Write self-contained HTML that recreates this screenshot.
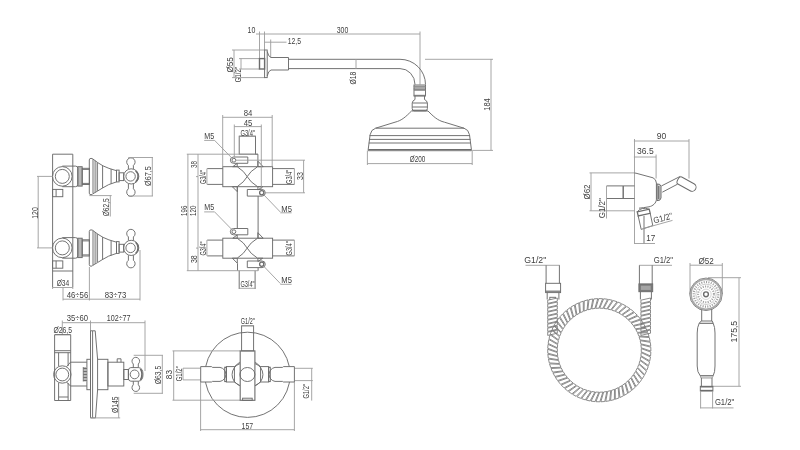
<!DOCTYPE html>
<html><head><meta charset="utf-8"><style>
html,body{margin:0;padding:0;background:#fff;}
svg{display:block;}
#wrap{will-change:transform;width:800px;height:450px;overflow:hidden;}
text{font-family:"Liberation Sans",sans-serif;fill:#404040;stroke:none;}
</style></head><body><div id="wrap">
<svg width="800" height="450" viewBox="0 0 800 450">
<rect width="800" height="450" fill="#fff"/>
<g fill="none" stroke="#6c6c6c" stroke-width="0.95">
<line x1="256" y1="34" x2="420" y2="34" stroke="#9c9c9c" stroke-width="0.9"/>
<line x1="259.5" y1="31.5" x2="259.5" y2="69" stroke="#9c9c9c" stroke-width="0.9"/>
<line x1="264.5" y1="31.5" x2="264.5" y2="50" stroke="#9c9c9c" stroke-width="0.9"/>
<line x1="264.5" y1="42.2" x2="286.5" y2="42.2" stroke="#9c9c9c" stroke-width="0.9"/>
<line x1="270.7" y1="39.5" x2="270.7" y2="57.5" stroke="#9c9c9c" stroke-width="0.9"/>
<line x1="420" y1="31.5" x2="420" y2="84.5" stroke="#9c9c9c" stroke-width="0.9"/>
<text x="247.5" y="32.6" font-size="8.6" textLength="7.8" lengthAdjust="spacingAndGlyphs">10</text>
<text x="336.7" y="32.6" font-size="8.6" textLength="11.6" lengthAdjust="spacingAndGlyphs">300</text>
<text x="287.7" y="44.0" font-size="8.6" textLength="13.3" lengthAdjust="spacingAndGlyphs">12,5</text>
<line x1="232" y1="50" x2="265" y2="50" stroke="#9c9c9c" stroke-width="0.9"/>
<line x1="232" y1="77.6" x2="265" y2="77.6" stroke="#9c9c9c" stroke-width="0.9"/>
<line x1="234" y1="50" x2="234" y2="77.6" stroke="#9c9c9c" stroke-width="0.9"/>
<text transform="translate(233.1,72.6) rotate(-90)" x="0" y="0" font-size="8.6" textLength="15.4" lengthAdjust="spacingAndGlyphs">Ø55</text>
<line x1="239" y1="58.6" x2="259.5" y2="58.6" stroke="#9c9c9c" stroke-width="0.9"/>
<line x1="239" y1="69" x2="259.5" y2="69" stroke="#9c9c9c" stroke-width="0.9"/>
<line x1="241" y1="58.6" x2="241" y2="69" stroke="#9c9c9c" stroke-width="0.9"/>
<text transform="translate(240.8,82.3) rotate(-90)" x="0" y="0" font-size="8.6" textLength="15.3" lengthAdjust="spacingAndGlyphs">G1/2"</text>
<rect x="264.6" y="50" width="2.6" height="27.6"/>
<rect x="259.5" y="58.6" width="5.1" height="10.4" stroke-width="1.4"/>
<path d="M267.2,51.5 Q268.5,57 271,57.5 L288.5,57.5 L288.5,70 L271,70 Q268.5,70.5 267.2,76"/>
<path d="M288.5,59.3 L400,59.3 A25.5,25.2 0 0 1 425.5,84.5"/>
<path d="M288.5,68.6 L400,68.6 A15,15.9 0 0 1 415,84.5"/>
<line x1="356" y1="59" x2="356" y2="69" stroke="#9c9c9c" stroke-width="0.9"/>
<text transform="translate(356.3,84.5) rotate(-90)" x="0" y="0" font-size="8.6" textLength="12.8" lengthAdjust="spacingAndGlyphs">Ø18</text>
<line x1="425" y1="59.3" x2="493" y2="59.3" stroke="#9c9c9c" stroke-width="0.9"/>
<line x1="491" y1="59" x2="491" y2="150.4" stroke="#9c9c9c" stroke-width="0.9"/>
<line x1="472.2" y1="150.4" x2="493" y2="150.4" stroke="#9c9c9c" stroke-width="0.9"/>
<text transform="translate(489.8,110.8) rotate(-90)" x="0" y="0" font-size="8.6" textLength="12.6" lengthAdjust="spacingAndGlyphs">184</text>
<rect x="414" y="85" width="11.5" height="11"/>
<rect x="414" y="86" width="11.5" height="1.6" stroke-width="0.3" fill="#9a9a9a"/>
<rect x="414" y="88.5" width="11.5" height="2.1" stroke-width="0.3" fill="#8a8a8a"/>
<rect x="414" y="95" width="11.5" height="1" stroke-width="0.3" fill="#888"/>
<path d="M415,96 L415,99.5 Q412.5,100.5 412.2,103 L412.2,108.5 Q412.2,110.5 414,110.8 L425.5,110.8 Q427.4,110.5 427.4,108.5 L427.4,103 Q427,100.5 424.5,99.5 L424.5,96"/>
<line x1="412.6" y1="103" x2="427" y2="103"/>
<line x1="412.4" y1="107" x2="427.2" y2="107"/>
<line x1="412.2" y1="110.2" x2="427.4" y2="110.2"/>
<path d="M411.5,111 C406,116.5 402,120.5 395,122.2 L375.6,128.2 Q371,129.5 370.1,134.8 L368.2,149.5 L368.2,150.7 L471.4,150.7 L471.4,149.5 L469.5,134.8 Q468.6,129.5 464,128.2 L444.5,122.2 C437.5,120.5 433.5,116.5 428,111 Z"/>
<line x1="375.6" y1="128.2" x2="464" y2="128.2"/>
<line x1="369.6" y1="135.6" x2="470" y2="135.6"/>
<line x1="369.2" y1="139.4" x2="470.4" y2="139.4"/>
<line x1="368.8" y1="143" x2="470.8" y2="143"/>
<line x1="368.2" y1="149.5" x2="471.4" y2="149.5" stroke-width="1.2"/>
<line x1="367.4" y1="150.7" x2="367.4" y2="165" stroke="#9c9c9c" stroke-width="0.9"/>
<line x1="472.2" y1="150.7" x2="472.2" y2="165" stroke="#9c9c9c" stroke-width="0.9"/>
<line x1="367.4" y1="163.6" x2="472.2" y2="163.6" stroke="#9c9c9c" stroke-width="0.9"/>
<text x="409.7" y="162.3" font-size="8.6" textLength="15.6" lengthAdjust="spacingAndGlyphs">Ø200</text>
<circle cx="62.3" cy="176.4" r="9.8"/>
<circle cx="62.3" cy="176.4" r="7.0"/>
<path d="M62.3,166.1 L75.5,166.1 Q77.8,166.1 77.8,168.4 L77.8,184.4 Q77.8,186.70000000000002 75.5,186.70000000000002 L62.3,186.70000000000002"/>
<rect x="77.8" y="166.70000000000002" width="4.4" height="19.4"/>
<line x1="79" y1="166.70000000000002" x2="79" y2="186.1"/>
<line x1="81" y1="166.70000000000002" x2="81" y2="186.1"/>
<rect x="82.2" y="168.3" width="7.2" height="16.2"/>
<line x1="82.2" y1="169.4" x2="89.4" y2="169.4"/>
<line x1="82.2" y1="183.4" x2="89.4" y2="183.4"/>
<path d="M89.3,159.9 Q89.3,158.4 91,158.4 Q92.5,158.4 93,159.1 Q98,163.1 103.1,165.9 Q108,168.4 116.5,170.70000000000002 L116.5,181.9 Q108,184.20000000000002 102,188.3 Q97.5,191.20000000000002 93,193.70000000000002 Q92.5,194.70000000000002 91,194.70000000000002 Q89.3,194.70000000000002 89.3,193.20000000000002 Z"/>
<line x1="93" y1="159.1" x2="93" y2="193.70000000000002"/>
<line x1="95.1" y1="160.6" x2="95.1" y2="192.4"/>
<line x1="97.3" y1="162.3" x2="97.3" y2="191.0" stroke-width="1.5" stroke="#888"/>
<line x1="102.6" y1="165.6" x2="102.6" y2="187.9"/>
<line x1="111.1" y1="169.1" x2="111.1" y2="183.9"/>
<rect x="116.5" y="170.1" width="2.6" height="11.8"/>
<rect x="119.1" y="172.8" width="4.6" height="7.8"/>
<path d="M128.4,169.0 L128.4,165.4 A4.2,4.2 0 1 1 133.4,165.4 L133.4,169.0"/>
<path d="M128.4,183.8 L128.4,188.8 A4.2,4.2 0 1 0 133.4,188.8 L133.4,183.8"/>
<circle cx="131.2" cy="176.4" r="7.6"/>
<circle cx="130.6" cy="176.4" r="4.7"/>
<path d="M135.6,170.8 A7.6,7.6 0 0 1 135.6,182.0" stroke-width="1.5"/>
<rect x="52.6" y="189.4" width="10.2" height="7.3"/>
<line x1="56.1" y1="189.4" x2="56.1" y2="196.70000000000002"/>
<circle cx="62.3" cy="247.9" r="9.8"/>
<circle cx="62.3" cy="247.9" r="7.0"/>
<path d="M62.3,237.6 L75.5,237.6 Q77.8,237.6 77.8,239.9 L77.8,255.9 Q77.8,258.2 75.5,258.2 L62.3,258.2"/>
<rect x="77.8" y="238.20000000000002" width="4.4" height="19.4"/>
<line x1="79" y1="238.20000000000002" x2="79" y2="257.6"/>
<line x1="81" y1="238.20000000000002" x2="81" y2="257.6"/>
<rect x="82.2" y="239.8" width="7.2" height="16.2"/>
<line x1="82.2" y1="240.9" x2="89.4" y2="240.9"/>
<line x1="82.2" y1="254.9" x2="89.4" y2="254.9"/>
<path d="M89.3,231.4 Q89.3,229.9 91,229.9 Q92.5,229.9 93,230.6 Q98,234.6 103.1,237.4 Q108,239.9 116.5,242.20000000000002 L116.5,253.4 Q108,255.70000000000002 102,259.8 Q97.5,262.7 93,265.2 Q92.5,266.2 91,266.2 Q89.3,266.2 89.3,264.7 Z"/>
<line x1="93" y1="230.6" x2="93" y2="265.2"/>
<line x1="95.1" y1="232.1" x2="95.1" y2="263.9"/>
<line x1="97.3" y1="233.8" x2="97.3" y2="262.5" stroke-width="1.5" stroke="#888"/>
<line x1="102.6" y1="237.1" x2="102.6" y2="259.4"/>
<line x1="111.1" y1="240.6" x2="111.1" y2="255.4"/>
<rect x="116.5" y="241.6" width="2.6" height="11.8"/>
<rect x="119.1" y="244.3" width="4.6" height="7.8"/>
<path d="M128.4,240.5 L128.4,236.9 A4.2,4.2 0 1 1 133.4,236.9 L133.4,240.5"/>
<path d="M128.4,255.3 L128.4,260.3 A4.2,4.2 0 1 0 133.4,260.3 L133.4,255.3"/>
<circle cx="131.2" cy="247.9" r="7.6"/>
<circle cx="130.6" cy="247.9" r="4.7"/>
<path d="M135.6,242.3 A7.6,7.6 0 0 1 135.6,253.5" stroke-width="1.5"/>
<rect x="52.6" y="260.9" width="10.2" height="7.3"/>
<line x1="56.1" y1="260.9" x2="56.1" y2="268.2"/>
<path d="M52.6,287 L52.6,154.2 L72.8,154.2 L72.8,287"/>
<line x1="52.6" y1="271" x2="72.8" y2="271"/>
<line x1="37" y1="176.4" x2="52.6" y2="176.4" stroke="#9c9c9c" stroke-width="0.9"/>
<line x1="37" y1="247.9" x2="52.6" y2="247.9" stroke="#9c9c9c" stroke-width="0.9"/>
<line x1="38.2" y1="176.4" x2="38.2" y2="247.9" stroke="#9c9c9c" stroke-width="0.9"/>
<text transform="translate(37.6,218.8) rotate(-90)" x="0" y="0" font-size="8.6" textLength="11.6" lengthAdjust="spacingAndGlyphs">120</text>
<line x1="128.3" y1="157.5" x2="153" y2="157.5" stroke="#9c9c9c" stroke-width="0.9"/>
<line x1="128.3" y1="196" x2="153" y2="196" stroke="#9c9c9c" stroke-width="0.9"/>
<line x1="152.3" y1="157.5" x2="152.3" y2="196" stroke="#9c9c9c" stroke-width="0.9"/>
<text transform="translate(150.9,185.9) rotate(-90)" x="0" y="0" font-size="8.6" textLength="19.7" lengthAdjust="spacingAndGlyphs">Ø67,5</text>
<line x1="89.4" y1="195.6" x2="111.7" y2="195.6" stroke="#9c9c9c" stroke-width="0.9"/>
<line x1="110.3" y1="195.6" x2="110.3" y2="216.5" stroke="#9c9c9c" stroke-width="0.9"/>
<text transform="translate(109.3,216.3) rotate(-90)" x="0" y="0" font-size="8.6" textLength="18.1" lengthAdjust="spacingAndGlyphs">Ø62,5</text>
<line x1="52.6" y1="287" x2="52.6" y2="289" stroke="#9c9c9c" stroke-width="0.9"/>
<line x1="72.8" y1="287" x2="72.8" y2="289" stroke="#9c9c9c" stroke-width="0.9"/>
<line x1="52.6" y1="287.5" x2="72.8" y2="287.5" stroke="#9c9c9c" stroke-width="0.9"/>
<text x="56.7" y="286.3" font-size="8.6" textLength="12.6" lengthAdjust="spacingAndGlyphs">Ø34</text>
<line x1="63" y1="287.5" x2="63" y2="300.5" stroke="#9c9c9c" stroke-width="0.9"/>
<line x1="63" y1="299.2" x2="90" y2="299.2" stroke="#9c9c9c" stroke-width="0.9"/>
<line x1="90" y1="299.2" x2="140" y2="299.2" stroke="#9c9c9c" stroke-width="0.9"/>
<line x1="89.4" y1="267" x2="89.4" y2="300.5" stroke="#9c9c9c" stroke-width="0.9"/>
<line x1="140" y1="250" x2="140" y2="300.5" stroke="#9c9c9c" stroke-width="0.9"/>
<text x="66.7" y="297.6" font-size="8.6" textLength="21.6" lengthAdjust="spacingAndGlyphs">46÷56</text>
<text x="104.7" y="297.6" font-size="8.6" textLength="21.6" lengthAdjust="spacingAndGlyphs">83÷73</text>
<rect x="222.8" y="166.7" width="49.8" height="20.0"/>
<path d="M207.2,168.6 L222.8,168.6 M207.2,184.4 L222.8,184.4"/>
<path d="M272.6,168.6 L294.4,168.6 M272.6,184.4 L294.4,184.4"/>
<path d="M237.2,166.7 Q244.3,171.2 247.2,176.6 Q244.3,182.0 237.2,186.7"/>
<path d="M257.6,166.7 Q250.1,171.2 247.2,176.6 Q250.1,182.0 257.6,186.7"/>
<path d="M257.9,161.2 L257.9,166.7 L263.2,166.7 Z"/>
<path d="M232.3,186.7 L237.3,186.7 L237.3,191.7 Z"/>
<path d="M257.9,186.7 L262.8,186.7 L257.9,190.0 Z"/>
<path d="M232.8,166.7 L237.2,166.7 L237.2,163.39999999999998 Z"/>
<path d="M233.5,157.0 L247.8,157.0 L247.8,163.29999999999998 L233.5,163.29999999999998 A3.15,3.15 0 0 1 233.5,157.0 Z"/>
<circle cx="233.9" cy="160.2" r="1.9"/>
<path d="M247.3,189.5 L262,189.5 A3.3,3.3 0 0 1 262,196.1 L247.3,196.1 Z"/>
<circle cx="261.7" cy="192.79999999999998" r="2.1" stroke-width="1.3"/>
<line x1="206.9" y1="168.6" x2="206.9" y2="184.4" stroke="#9c9c9c" stroke-width="0.9"/>
<text transform="translate(205.6,184.1) rotate(-90)" x="0" y="0" font-size="8.6" textLength="14.0" lengthAdjust="spacingAndGlyphs">G3/4"</text>
<line x1="294.4" y1="168.6" x2="294.4" y2="184.4" stroke="#9c9c9c" stroke-width="0.9"/>
<text transform="translate(291.5,183.9) rotate(-90)" x="0" y="0" font-size="8.6" textLength="14.1" lengthAdjust="spacingAndGlyphs">G3/4"</text>
<line x1="214.3" y1="140.1" x2="232.6" y2="158.79999999999998" stroke="#9c9c9c" stroke-width="0.9"/>
<line x1="204.2" y1="140.39999999999998" x2="214.3" y2="140.39999999999998" stroke="#9c9c9c" stroke-width="0.9"/>
<text x="204.3" y="138.6" font-size="8.6" textLength="9.9" lengthAdjust="spacingAndGlyphs">M5</text>
<line x1="263.6" y1="194.6" x2="280.3" y2="212.0" stroke="#9c9c9c" stroke-width="0.9"/>
<line x1="280.3" y1="212.8" x2="291.6" y2="212.8" stroke="#9c9c9c" stroke-width="0.9"/>
<text x="281.3" y="211.7" font-size="8.6" textLength="10.6" lengthAdjust="spacingAndGlyphs">M5</text>
<rect x="222.8" y="238.2" width="49.8" height="20.0"/>
<path d="M207.2,240.1 L222.8,240.1 M207.2,255.9 L222.8,255.9"/>
<path d="M272.6,240.1 L294.4,240.1 M272.6,255.9 L294.4,255.9"/>
<path d="M237.2,238.2 Q244.3,242.7 247.2,248.1 Q244.3,253.5 237.2,258.2"/>
<path d="M257.6,238.2 Q250.1,242.7 247.2,248.1 Q250.1,253.5 257.6,258.2"/>
<path d="M257.9,232.7 L257.9,238.2 L263.2,238.2 Z"/>
<path d="M232.3,258.2 L237.3,258.2 L237.3,263.2 Z"/>
<path d="M257.9,258.2 L262.8,258.2 L257.9,261.5 Z"/>
<path d="M232.8,238.2 L237.2,238.2 L237.2,234.89999999999998 Z"/>
<path d="M233.5,228.5 L247.8,228.5 L247.8,234.79999999999998 L233.5,234.79999999999998 A3.15,3.15 0 0 1 233.5,228.5 Z"/>
<circle cx="233.9" cy="231.7" r="1.9"/>
<path d="M247.3,261.0 L262,261.0 A3.3,3.3 0 0 1 262,267.6 L247.3,267.6 Z"/>
<circle cx="261.7" cy="264.3" r="2.1" stroke-width="1.3"/>
<line x1="206.9" y1="240.1" x2="206.9" y2="255.9" stroke="#9c9c9c" stroke-width="0.9"/>
<text transform="translate(205.6,255.6) rotate(-90)" x="0" y="0" font-size="8.6" textLength="14.0" lengthAdjust="spacingAndGlyphs">G3/4"</text>
<line x1="294.4" y1="240.1" x2="294.4" y2="255.9" stroke="#9c9c9c" stroke-width="0.9"/>
<text transform="translate(291.5,255.4) rotate(-90)" x="0" y="0" font-size="8.6" textLength="14.1" lengthAdjust="spacingAndGlyphs">G3/4"</text>
<line x1="214.3" y1="211.6" x2="232.6" y2="230.29999999999998" stroke="#9c9c9c" stroke-width="0.9"/>
<line x1="204.2" y1="211.89999999999998" x2="214.3" y2="211.89999999999998" stroke="#9c9c9c" stroke-width="0.9"/>
<text x="204.3" y="210.1" font-size="8.6" textLength="9.9" lengthAdjust="spacingAndGlyphs">M5</text>
<line x1="263.6" y1="266.1" x2="280.3" y2="283.5" stroke="#9c9c9c" stroke-width="0.9"/>
<line x1="280.3" y1="284.3" x2="291.6" y2="284.3" stroke="#9c9c9c" stroke-width="0.9"/>
<text x="281.3" y="283.2" font-size="8.6" textLength="10.6" lengthAdjust="spacingAndGlyphs">M5</text>
<rect x="239.2" y="136.2" width="16.3" height="18.0"/>
<line x1="222.7" y1="154.2" x2="257.9" y2="154.2" stroke="#9c9c9c" stroke-width="0.9"/>
<line x1="255.5" y1="154.2" x2="257.9" y2="154.2"/>
<line x1="257.9" y1="154.2" x2="257.9" y2="166.7"/>
<line x1="237.3" y1="186.7" x2="237.3" y2="228.3"/>
<line x1="258.1" y1="196" x2="258.1" y2="238.2"/>
<line x1="237.5" y1="263.3" x2="237.5" y2="270.7"/>
<line x1="258.1" y1="268" x2="258.1" y2="270.7"/>
<path d="M239.2,270.7 L239.2,289 M255.1,270.7 L255.1,289"/>
<line x1="239.2" y1="288.3" x2="255.1" y2="288.3" stroke="#9c9c9c" stroke-width="0.9"/>
<text x="240.4" y="287.3" font-size="8.6" textLength="14.1" lengthAdjust="spacingAndGlyphs">G3/4"</text>
<line x1="186.8" y1="270.7" x2="258.1" y2="270.7" stroke="#9c9c9c" stroke-width="0.9"/>
<line x1="186.8" y1="154.2" x2="222.7" y2="154.2" stroke="#9c9c9c" stroke-width="0.9"/>
<line x1="187.9" y1="154.2" x2="187.9" y2="270.7" stroke="#9c9c9c" stroke-width="0.9"/>
<line x1="198" y1="154.2" x2="198" y2="270.7" stroke="#9c9c9c" stroke-width="0.9"/>
<line x1="196" y1="176.6" x2="198" y2="176.6" stroke="#9c9c9c" stroke-width="0.9"/>
<line x1="196" y1="248.1" x2="198" y2="248.1" stroke="#9c9c9c" stroke-width="0.9"/>
<text transform="translate(186.6,215.9) rotate(-90)" x="0" y="0" font-size="8.6" textLength="10.2" lengthAdjust="spacingAndGlyphs">196</text>
<text transform="translate(196.1,215.9) rotate(-90)" x="0" y="0" font-size="8.6" textLength="10.2" lengthAdjust="spacingAndGlyphs">120</text>
<text transform="translate(196.7,167.9) rotate(-90)" x="0" y="0" font-size="8.6" textLength="7.0" lengthAdjust="spacingAndGlyphs">38</text>
<text transform="translate(196.5,263.1) rotate(-90)" x="0" y="0" font-size="8.6" textLength="7.8" lengthAdjust="spacingAndGlyphs">38</text>
<line x1="222.7" y1="117.3" x2="272.2" y2="117.3" stroke="#9c9c9c" stroke-width="0.9"/>
<line x1="222.7" y1="115" x2="222.7" y2="166.7" stroke="#9c9c9c" stroke-width="0.9"/>
<line x1="272.2" y1="115" x2="272.2" y2="166.7" stroke="#9c9c9c" stroke-width="0.9"/>
<text x="243.7" y="116.1" font-size="8.6" textLength="8.6" lengthAdjust="spacingAndGlyphs">84</text>
<line x1="234.3" y1="126.6" x2="261.3" y2="126.6" stroke="#9c9c9c" stroke-width="0.9"/>
<line x1="234.3" y1="124.5" x2="234.3" y2="157.2" stroke="#9c9c9c" stroke-width="0.9"/>
<line x1="261.3" y1="124.5" x2="261.3" y2="190" stroke="#9c9c9c" stroke-width="0.9"/>
<text x="243.7" y="126.3" font-size="8.6" textLength="8.6" lengthAdjust="spacingAndGlyphs">45</text>
<line x1="239.2" y1="136.2" x2="255.5" y2="136.2" stroke="#9c9c9c" stroke-width="0.9"/>
<text x="240.4" y="135.5" font-size="8.6" textLength="14.6" lengthAdjust="spacingAndGlyphs">G3/4"</text>
<line x1="236" y1="160.2" x2="305" y2="160.2" stroke="#9c9c9c" stroke-width="0.9"/>
<line x1="263.8" y1="192.8" x2="305" y2="192.8" stroke="#9c9c9c" stroke-width="0.9"/>
<line x1="303.6" y1="160.2" x2="303.6" y2="192.8" stroke="#9c9c9c" stroke-width="0.9"/>
<text transform="translate(302.9,179.9) rotate(-90)" x="0" y="0" font-size="8.6" textLength="7.8" lengthAdjust="spacingAndGlyphs">33</text>
<line x1="62.3" y1="322.7" x2="145" y2="322.7" stroke="#9c9c9c" stroke-width="0.9"/>
<line x1="62.3" y1="320.5" x2="62.3" y2="334.7" stroke="#9c9c9c" stroke-width="0.9"/>
<line x1="90.5" y1="320.5" x2="90.5" y2="331" stroke="#9c9c9c" stroke-width="0.9"/>
<line x1="145" y1="320.5" x2="145" y2="371" stroke="#9c9c9c" stroke-width="0.9"/>
<text x="66.7" y="321.2" font-size="8.6" textLength="21.3" lengthAdjust="spacingAndGlyphs">35÷60</text>
<text x="106.7" y="321.2" font-size="8.6" textLength="23.9" lengthAdjust="spacingAndGlyphs">102÷77</text>
<text x="53.4" y="333.3" font-size="8.6" textLength="18.6" lengthAdjust="spacingAndGlyphs">Ø26,5</text>
<line x1="55" y1="334.7" x2="70.5" y2="334.7" stroke="#9c9c9c" stroke-width="0.9"/>
<path d="M54.6,334.7 L54.6,400.5 L70.7,400.5 L70.7,334.7 Z"/>
<line x1="54.6" y1="350.7" x2="70.7" y2="350.7"/>
<line x1="54.6" y1="352.7" x2="70.7" y2="352.7"/>
<line x1="58.6" y1="352.7" x2="58.6" y2="366"/>
<line x1="68.1" y1="352.7" x2="68.1" y2="366"/>
<line x1="58.6" y1="383" x2="58.6" y2="400.5"/>
<line x1="68.1" y1="383" x2="68.1" y2="400.5"/>
<line x1="58.6" y1="397" x2="68.1" y2="397"/>
<circle cx="62.3" cy="374.5" r="8.7"/>
<circle cx="62.3" cy="374.5" r="6.4"/>
<path d="M66.5,366.8 L70.5,362.2 L86.9,362.2"/>
<path d="M66.5,382 L70.5,386 L86.9,386"/>
<line x1="83.3" y1="367" x2="83.3" y2="381.5"/>
<line x1="85" y1="367" x2="85" y2="381.5"/>
<line x1="83.3" y1="368.5" x2="86.9" y2="368.5"/>
<line x1="83.3" y1="371.5" x2="86.9" y2="371.5"/>
<line x1="83.3" y1="374.5" x2="86.9" y2="374.5"/>
<line x1="83.3" y1="377.5" x2="86.9" y2="377.5"/>
<line x1="83.3" y1="380.5" x2="86.9" y2="380.5"/>
<rect x="86.9" y="359.3" width="3.6" height="30.4"/>
<path d="M90.5,330.8 L95.2,330.8 L97.6,359.3 M97.6,389.7 L95.5,417.9 L90.5,417.9 L90.5,330.8"/>
<line x1="92.6" y1="331" x2="92.6" y2="417.9"/>
<rect x="97.6" y="359.3" width="10.3" height="30.4"/>
<rect x="107.9" y="362.2" width="15.9" height="23.8"/>
<path d="M117.2,362.2 L117.2,358.8 L121,358.8 L121,362.2"/>
<rect x="123.8" y="369.5" width="4.7" height="10.0"/>
<path d="M130.8,367.6 Q128.5,367.8 128.3,370.5 L128.3,378.3 Q128.5,381 130.8,381.2 L138.5,381.2 Q143,380.8 143,374.4 Q143,368 138.5,367.6 Z"/>
<circle cx="134.6" cy="374.4" r="4.4"/>
<path d="M140.5,368.8 Q143.6,374.4 140.5,380" stroke-width="1.6"/>
<path d="M133.3,367.6 L133.3,364 A3.8,3.8 0 1 1 138.3,364 L138.3,367.6"/>
<path d="M133.3,381.2 L133.3,384.8 A3.8,3.8 0 1 0 138.3,384.8 L138.3,381.2"/>
<line x1="133.7" y1="355.3" x2="163" y2="355.3" stroke="#9c9c9c" stroke-width="0.9"/>
<line x1="133.7" y1="393.3" x2="163" y2="393.3" stroke="#9c9c9c" stroke-width="0.9"/>
<line x1="162.3" y1="355.3" x2="162.3" y2="393.3" stroke="#9c9c9c" stroke-width="0.9"/>
<text transform="translate(161.3,384.3) rotate(-90)" x="0" y="0" font-size="8.6" textLength="18.6" lengthAdjust="spacingAndGlyphs">Ø63,5</text>
<line x1="90.5" y1="417.9" x2="120.2" y2="417.9" stroke="#9c9c9c" stroke-width="0.9"/>
<line x1="118.7" y1="396.9" x2="118.7" y2="417.9" stroke="#9c9c9c" stroke-width="0.9"/>
<text transform="translate(117.6,413.1) rotate(-90)" x="0" y="0" font-size="8.6" textLength="16.5" lengthAdjust="spacingAndGlyphs">Ø145</text>
<circle cx="247.5" cy="374.8" r="42.6"/>
<line x1="172.5" y1="350.9" x2="240" y2="350.9" stroke="#9c9c9c" stroke-width="0.9"/>
<line x1="172.5" y1="400.2" x2="240" y2="400.2" stroke="#9c9c9c" stroke-width="0.9"/>
<line x1="173.7" y1="350.9" x2="173.7" y2="400.2" stroke="#9c9c9c" stroke-width="0.9"/>
<text transform="translate(172.4,379.2) rotate(-90)" x="0" y="0" font-size="8.6" textLength="9.2" lengthAdjust="spacingAndGlyphs">83</text>
<line x1="183" y1="368.2" x2="200.7" y2="368.2" stroke="#9c9c9c" stroke-width="0.9"/>
<line x1="183" y1="379.9" x2="200.7" y2="379.9" stroke="#9c9c9c" stroke-width="0.9"/>
<line x1="183" y1="368.2" x2="183" y2="379.9" stroke="#9c9c9c" stroke-width="0.9"/>
<text transform="translate(181.7,381.3) rotate(-90)" x="0" y="0" font-size="8.6" textLength="15.1" lengthAdjust="spacingAndGlyphs">G1/2"</text>
<line x1="294.4" y1="368.3" x2="312.8" y2="368.3" stroke="#9c9c9c" stroke-width="0.9"/>
<line x1="294.4" y1="380.6" x2="312.8" y2="380.6" stroke="#9c9c9c" stroke-width="0.9"/>
<line x1="311.7" y1="368.3" x2="311.7" y2="400.6" stroke="#9c9c9c" stroke-width="0.9"/>
<text transform="translate(309.2,398.6) rotate(-90)" x="0" y="0" font-size="8.6" textLength="14.5" lengthAdjust="spacingAndGlyphs">G1/2"</text>
<line x1="200.6" y1="382" x2="200.6" y2="431" stroke="#9c9c9c" stroke-width="0.9"/>
<line x1="294.4" y1="382" x2="294.4" y2="431" stroke="#9c9c9c" stroke-width="0.9"/>
<line x1="200.6" y1="429.7" x2="294.4" y2="429.7" stroke="#9c9c9c" stroke-width="0.9"/>
<text x="241.6" y="428.7" font-size="8.6" textLength="11.5" lengthAdjust="spacingAndGlyphs">157</text>
<rect x="241.6" y="325.8" width="12.0" height="25.1"/>
<line x1="241.6" y1="325.8" x2="253.6" y2="325.8" stroke="#9c9c9c" stroke-width="0.9"/>
<text x="240.8" y="323.9" font-size="8.6" textLength="13.9" lengthAdjust="spacingAndGlyphs">G1/2"</text>
<rect x="240.2" y="350.9" width="14.7" height="49.4" stroke-width="1.1"/>
<rect x="242.6" y="398.2" width="9.6" height="2.1"/>
<rect x="200.7" y="366.6" width="25.7" height="15.4" stroke-width="0.01" fill="#fff"/>
<path d="M200.7,366.6 L211.5,366.6 L212.5,367.4 L220,367.4 A7.1,7.1 0 0 1 220,381.4 L212.5,381.4 L211.5,382 L200.7,382 Z"/>
<rect x="224.7" y="367.2" width="1.7" height="14.4"/>
<rect x="226.4" y="366.6" width="8.0" height="15.4"/>
<path d="M234.4,366.6 L239.8,362.2 M234.4,382 L239.8,385.8"/>
<path d="M240,363.6 A11.6,11.6 0 0 0 240,385.6"/>
<rect x="268.6" y="366.6" width="25.8" height="15.4" stroke-width="0.01" fill="#fff"/>
<path d="M294.4,366.6 L283.5,366.6 L282.5,367.4 L275,367.4 A7.1,7.1 0 0 0 275,381.4 L282.5,381.4 L283.5,382 L294.4,382 Z"/>
<rect x="268.6" y="367.2" width="1.7" height="14.4"/>
<rect x="260.6" y="366.6" width="8.0" height="15.4"/>
<path d="M260.6,366.6 L255.2,362.2 M260.6,382 L255.2,385.8"/>
<path d="M255,363.6 A11.6,11.6 0 0 1 255,385.6"/>
<ellipse cx="247.4" cy="374.5" rx="7.5" ry="7.0"/>
<line x1="633.9" y1="141" x2="689" y2="141" stroke="#9c9c9c" stroke-width="0.9"/>
<line x1="634.5" y1="139" x2="634.5" y2="244" stroke="#9c9c9c" stroke-width="0.9"/>
<line x1="689" y1="139" x2="689" y2="178.5" stroke="#9c9c9c" stroke-width="0.9"/>
<text x="656.7" y="138.6" font-size="8.6" textLength="9.5" lengthAdjust="spacingAndGlyphs">90</text>
<line x1="633.9" y1="157" x2="656.1" y2="157" stroke="#9c9c9c" stroke-width="0.9"/>
<line x1="656.1" y1="154.5" x2="656.1" y2="178.5" stroke="#9c9c9c" stroke-width="0.9"/>
<text x="637.1" y="153.9" font-size="8.6" textLength="16.6" lengthAdjust="spacingAndGlyphs">36.5</text>
<line x1="589.5" y1="172.9" x2="634.8" y2="172.9" stroke="#9c9c9c" stroke-width="0.9"/>
<line x1="589.5" y1="210.8" x2="634.8" y2="210.8" stroke="#9c9c9c" stroke-width="0.9"/>
<line x1="591" y1="172.9" x2="591" y2="210.8" stroke="#9c9c9c" stroke-width="0.9"/>
<text transform="translate(589.9,199.6) rotate(-90)" x="0" y="0" font-size="8.6" textLength="15.2" lengthAdjust="spacingAndGlyphs">Ø62</text>
<path d="M634.5,173 L636,173.2 L653,177.8 Q656.2,179.3 656.4,183 L656.4,199.5 C656.2,203 653,206 649,206.8 Q643,207.8 639,208.2"/>
<path d="M634.5,185.9 L606.6,185.9 M606.6,198.5 L634.5,198.5"/>
<line x1="623.2" y1="185.9" x2="623.2" y2="198.5" stroke-width="1.4"/>
<line x1="606.5" y1="185.9" x2="606.5" y2="218.5" stroke="#9c9c9c" stroke-width="0.9"/>
<text transform="translate(604.7,218.3) rotate(-90)" x="0" y="0" font-size="8.6" textLength="20.1" lengthAdjust="spacingAndGlyphs">G1/2"</text>
<path d="M657,184 Q660.5,183.5 661,186.5 L661,198 Q660.5,201 657,200.6 Z" stroke-width="1.0" fill="#cfcfcf"/>
<line x1="658.8" y1="186" x2="658.8" y2="199" stroke-width="1.0" stroke="#555"/>
<path d="M661.3,186 L680.2,176.4"/>
<path d="M662.3,192.2 L677.5,184.2"/>
<g transform="translate(679.8,180.5) rotate(29)"><path d="M0,-4 L14,-4 A4,4 0 0 1 14,4 L0,4 A2.2,4 0 0 1 0,-4 Z"/></g>
<path d="M637.2,211.8 Q641.5,206.5 649.2,209.2"/>
<path d="M637.2,211.8 L649.2,209.2 L650.2,213.3 L638.2,216 Z" stroke-width="1.3"/>
<path d="M638.2,216 L641.2,229.4 L652.8,225.6 L650.2,213.3"/>
<line x1="644" y1="216" x2="644" y2="243.8"/>
<line x1="643" y1="228.6" x2="672.5" y2="220.4" stroke="#9c9c9c" stroke-width="0.9"/>
<text transform="translate(654.3,223.6) rotate(-15.5)" font-size="8.6" textLength="19.5" lengthAdjust="spacingAndGlyphs">G1/2"</text>
<line x1="634.5" y1="243.5" x2="655" y2="243.5" stroke="#9c9c9c" stroke-width="0.9"/>
<text x="646.2" y="241.3" font-size="8.6" textLength="9.1" lengthAdjust="spacingAndGlyphs">17</text>
<text x="524.3" y="263.1" font-size="8.6" textLength="22.0" lengthAdjust="spacingAndGlyphs">G1/2"</text>
<line x1="525.5" y1="265.3" x2="559.7" y2="265.3" stroke="#9c9c9c" stroke-width="0.9"/>
<path d="M546.1,265.3 L546.1,283.3 M559.4,265.3 L559.4,283.3"/>
<rect x="545.6" y="283.3" width="15.0" height="9.3"/>
<line x1="545.6" y1="291.2" x2="560.6" y2="291.2" stroke-width="1.2"/>
<path d="M547.2,292.6 L547.2,299.5 M558.9,292.6 L558.9,299.5"/>
<rect x="549.8" y="297.3" width="5.6" height="2.7"/>
<text x="653.7" y="263.1" font-size="8.6" textLength="19.4" lengthAdjust="spacingAndGlyphs">G1/2"</text>
<line x1="639.3" y1="265.3" x2="672" y2="265.3" stroke="#9c9c9c" stroke-width="0.9"/>
<path d="M639.4,265.3 L639.4,284 M652.2,265.3 L652.2,284"/>
<rect x="638.9" y="283.9" width="13.8" height="7.8" fill="#7a7a7a"/>
<rect x="640.8" y="285.6" width="10.0" height="4.4" stroke-width="0.1" fill="#a5a5a5"/>
<path d="M640.4,291.7 L640.4,299.5 M651.4,291.7 L651.4,299.5"/>
<path d="M547.70,300.20 L557.30,298.00 L557.30,301.20 L547.70,303.40 Z M547.70,304.20 L557.30,302.00 L557.30,305.20 L547.70,307.40 Z M547.70,308.20 L557.30,306.00 L557.30,309.20 L547.70,311.40 Z M547.70,312.20 L557.30,310.00 L557.30,313.20 L547.70,315.40 Z M547.70,316.20 L557.30,314.00 L557.30,317.20 L547.70,319.40 Z M547.70,320.20 L557.30,318.00 L557.30,321.20 L547.70,323.40 Z M547.70,324.20 L557.30,322.00 L557.30,325.20 L547.70,327.40 Z M547.70,328.20 L557.30,326.00 L557.30,329.20 L547.70,331.40 Z M547.70,332.20 L557.30,330.00 L557.30,333.20 L547.70,335.40 Z M640.90,300.20 L650.50,298.00 L650.50,301.20 L640.90,303.40 Z M640.90,304.20 L650.50,302.00 L650.50,305.20 L640.90,307.40 Z M640.90,308.20 L650.50,306.00 L650.50,309.20 L640.90,311.40 Z M640.90,312.20 L650.50,310.00 L650.50,313.20 L640.90,315.40 Z M640.90,316.20 L650.50,314.00 L650.50,317.20 L640.90,319.40 Z M640.90,320.20 L650.50,318.00 L650.50,321.20 L640.90,323.40 Z M640.90,324.20 L650.50,322.00 L650.50,325.20 L640.90,327.40 Z M640.90,328.20 L650.50,326.00 L650.50,329.20 L640.90,331.40 Z M640.90,332.20 L650.50,330.00 L650.50,333.20 L640.90,335.40 Z M641.27,348.60 L650.86,352.11 L650.57,356.02 L641.27,351.80 Z M641.23,352.60 L650.45,357.00 L649.79,360.87 L640.93,355.78 Z M640.81,356.58 L649.57,361.83 L648.54,365.62 L640.21,359.71 Z M640.02,360.49 L648.24,366.56 L646.85,370.23 L639.12,363.56 Z M638.86,364.32 L646.46,371.14 L644.74,374.66 L637.67,367.28 Z M637.34,368.01 L644.26,375.52 L642.21,378.87 L635.87,370.85 Z M635.47,371.55 L641.65,379.68 L639.29,382.81 L633.74,374.23 Z M633.28,374.89 L638.65,383.58 L636.00,386.47 L631.30,377.40 Z M630.78,378.01 L635.30,387.17 L632.39,389.79 L628.57,380.32 Z M627.99,380.87 L631.63,390.42 L628.48,392.76 L625.58,382.96 Z M624.94,383.46 L627.66,393.31 L624.30,395.34 L622.35,385.31 Z M621.67,385.75 L623.43,395.81 L619.90,397.51 L618.90,387.34 Z M618.19,387.71 L618.98,397.90 L615.31,399.25 L615.28,389.04 Z M614.53,389.34 L614.36,399.55 L610.57,400.55 L611.52,390.38 Z M610.75,390.61 L609.60,400.76 L605.73,401.40 L607.64,391.36 Z M606.85,391.52 L604.75,401.51 L600.84,401.78 L603.69,391.97 Z M602.89,392.05 L599.85,401.80 L595.93,401.69 L599.70,392.20 Z M598.90,392.20 L594.94,401.62 L591.05,401.14 L595.71,392.05 Z M594.91,391.97 L590.07,400.97 L586.24,400.12 L591.75,391.52 Z M590.96,391.36 L585.29,399.86 L581.56,398.65 L587.85,390.61 Z M587.08,390.38 L580.63,398.30 L577.03,396.75 L584.07,389.34 Z M583.32,389.04 L576.14,396.31 L572.71,394.42 L580.41,387.71 Z M579.70,387.34 L571.86,393.90 L568.63,391.69 L576.93,385.75 Z M576.25,385.31 L567.83,391.10 L564.82,388.59 L573.66,383.46 Z M573.02,382.96 L564.09,387.92 L561.33,385.14 L570.61,380.87 Z M570.03,380.32 L560.66,384.40 L558.18,381.37 L567.82,378.01 Z M567.30,377.40 L557.59,380.57 L555.40,377.32 L565.32,374.89 Z M564.86,374.23 L554.89,376.47 L553.02,373.02 L563.13,371.55 Z M562.73,370.85 L552.59,372.13 L551.06,368.52 L561.26,368.01 Z M560.93,367.28 L550.72,367.59 L549.54,363.85 L559.74,364.32 Z M559.48,363.56 L549.29,362.90 L548.47,359.06 L558.58,360.49 Z M558.39,359.71 L548.31,358.08 L547.85,354.19 L557.79,356.58 Z M557.67,355.78 L547.79,353.20 L547.71,349.28 L557.37,352.60 Z M557.33,351.80 L547.74,348.29 L548.03,344.38 L557.33,348.60 Z M557.37,347.80 L548.15,343.40 L548.81,339.53 L557.67,344.62 Z M557.79,343.82 L549.03,338.57 L550.06,334.78 L558.39,340.69 Z M558.58,339.91 L550.36,333.84 L551.75,330.17 L559.48,336.84 Z M559.74,336.08 L552.14,329.26 L553.86,325.74 L560.93,333.12 Z M561.26,332.39 L554.34,324.88 L556.39,321.53 L562.73,329.55 Z M563.13,328.85 L556.95,320.72 L559.31,317.59 L564.86,326.17 Z M565.32,325.51 L559.95,316.82 L562.60,313.93 L567.30,323.00 Z M567.82,322.39 L563.30,313.23 L566.21,310.61 L570.03,320.08 Z M570.61,319.53 L566.97,309.98 L570.12,307.64 L573.02,317.44 Z M573.66,316.94 L570.94,307.09 L574.30,305.06 L576.25,315.09 Z M576.93,314.65 L575.17,304.59 L578.70,302.89 L579.70,313.06 Z M580.41,312.69 L579.62,302.50 L583.29,301.15 L583.32,311.36 Z M584.07,311.06 L584.24,300.85 L588.03,299.85 L587.08,310.02 Z M587.85,309.79 L589.00,299.64 L592.87,299.00 L590.96,309.04 Z M591.75,308.88 L593.85,298.89 L597.76,298.62 L594.91,308.43 Z M595.71,308.35 L598.75,298.60 L602.67,298.71 L598.90,308.20 Z M599.70,308.20 L603.66,298.78 L607.55,299.26 L602.89,308.35 Z M603.69,308.43 L608.53,299.43 L612.36,300.28 L606.85,308.88 Z M607.64,309.04 L613.31,300.54 L617.04,301.75 L610.75,309.79 Z M611.52,310.02 L617.97,302.10 L621.57,303.65 L614.53,311.06 Z M615.28,311.36 L622.46,304.09 L625.89,305.98 L618.19,312.69 Z M618.90,313.06 L626.74,306.50 L629.97,308.71 L621.67,314.65 Z M622.35,315.09 L630.77,309.30 L633.78,311.81 L624.94,316.94 Z M625.58,317.44 L634.51,312.48 L637.27,315.26 L627.99,319.53 Z M628.57,320.08 L637.94,316.00 L640.42,319.03 L630.78,322.39 Z M631.30,323.00 L641.01,319.83 L643.20,323.08 L633.28,325.51 Z M633.74,326.17 L643.71,323.93 L645.58,327.38 L635.47,328.85 Z M635.87,329.55 L646.01,328.27 L647.54,331.88 L637.34,332.39 Z M637.67,333.12 L647.88,332.81 L649.06,336.55 L638.86,336.08 Z M639.12,336.84 L649.31,337.50 L650.13,341.34 L640.02,339.91 Z M640.21,340.69 L650.29,342.32 L650.75,346.21 L640.81,343.82 Z M640.93,344.62 L650.81,347.20 L650.89,351.12 L641.23,347.80 Z" fill="#fff" stroke="#777" stroke-width="0.85" stroke-linejoin="round"/>
<text x="698.4" y="263.5" font-size="8.6" textLength="15.3" lengthAdjust="spacingAndGlyphs">Ø52</text>
<line x1="690" y1="265.2" x2="722.3" y2="265.2" stroke="#9c9c9c" stroke-width="0.9"/>
<line x1="690" y1="263" x2="690" y2="294" stroke="#9c9c9c" stroke-width="0.9"/>
<line x1="722.3" y1="263" x2="722.3" y2="294" stroke="#9c9c9c" stroke-width="0.9"/>
<line x1="708" y1="277.7" x2="741" y2="277.7" stroke="#9c9c9c" stroke-width="0.9"/>
<line x1="739" y1="277.7" x2="739" y2="386.3" stroke="#9c9c9c" stroke-width="0.9"/>
<line x1="712.9" y1="386.3" x2="741" y2="386.3" stroke="#9c9c9c" stroke-width="0.9"/>
<text transform="translate(737.3,342.5) rotate(-90)" x="0" y="0" font-size="8.6" textLength="21.7" lengthAdjust="spacingAndGlyphs">175,5</text>
<circle cx="706" cy="294.3" r="16.2" stroke-width="0.9"/>
<circle cx="706" cy="294.3" r="15.0" stroke-width="1.8" stroke="#a8a8a8"/>
<circle cx="706" cy="294.3" r="12.3" stroke-width="2.2" stroke="#a0a0a0" stroke-dasharray="1.1 1.3"/>
<circle cx="706" cy="294.3" r="10.2" stroke-width="0.6" stroke="#aaa"/>
<circle cx="706" cy="294.3" r="7.9" stroke-width="2.0" stroke="#a0a0a0" stroke-dasharray="1.1 1.3"/>
<circle cx="706" cy="294.3" r="5.2" stroke-width="0.6" stroke="#bbb"/>
<circle cx="706" cy="294.3" r="2.4" stroke-width="1.4"/>
<path d="M701.7,309.5 L701.7,321 M711.7,309.5 L711.7,321"/>
<path d="M701.2,321 L712.2,321 L713.2,323.3 Q715,327 715,333 L715,366 Q715,372.5 713.2,375.6 L712.2,377.8 L701.2,377.8 L700.2,375.6 Q697.2,372.5 697.2,366 L697.2,333 Q697.2,327 699.2,323.3 Z"/>
<line x1="699.2" y1="323.3" x2="713.2" y2="323.3" stroke-width="1.1"/>
<line x1="700.2" y1="375.6" x2="713.2" y2="375.6" stroke-width="1.1"/>
<rect x="700.5" y="375.8" width="12.3" height="2.2" stroke-width="0.1" fill="#c8c8c8"/>
<path d="M701.4,377.8 L701.4,386.3 M712,377.8 L712,386.3"/>
<rect x="700.3" y="386.3" width="12.6" height="4.7"/>
<line x1="700.3" y1="386.8" x2="712.9" y2="386.8" stroke-width="1.4"/>
<line x1="700.3" y1="390.5" x2="712.9" y2="390.5" stroke-width="1.3"/>
<line x1="700.6" y1="391" x2="700.6" y2="408.4" stroke="#9c9c9c" stroke-width="0.9"/>
<line x1="712.6" y1="391" x2="712.6" y2="408.4" stroke="#9c9c9c" stroke-width="0.9"/>
<line x1="700.3" y1="407.9" x2="733.5" y2="407.9" stroke="#9c9c9c" stroke-width="0.9"/>
<text x="714.9" y="405.3" font-size="8.6" textLength="19.4" lengthAdjust="spacingAndGlyphs">G1/2"</text>
</g>
</svg></div>
</body></html>
